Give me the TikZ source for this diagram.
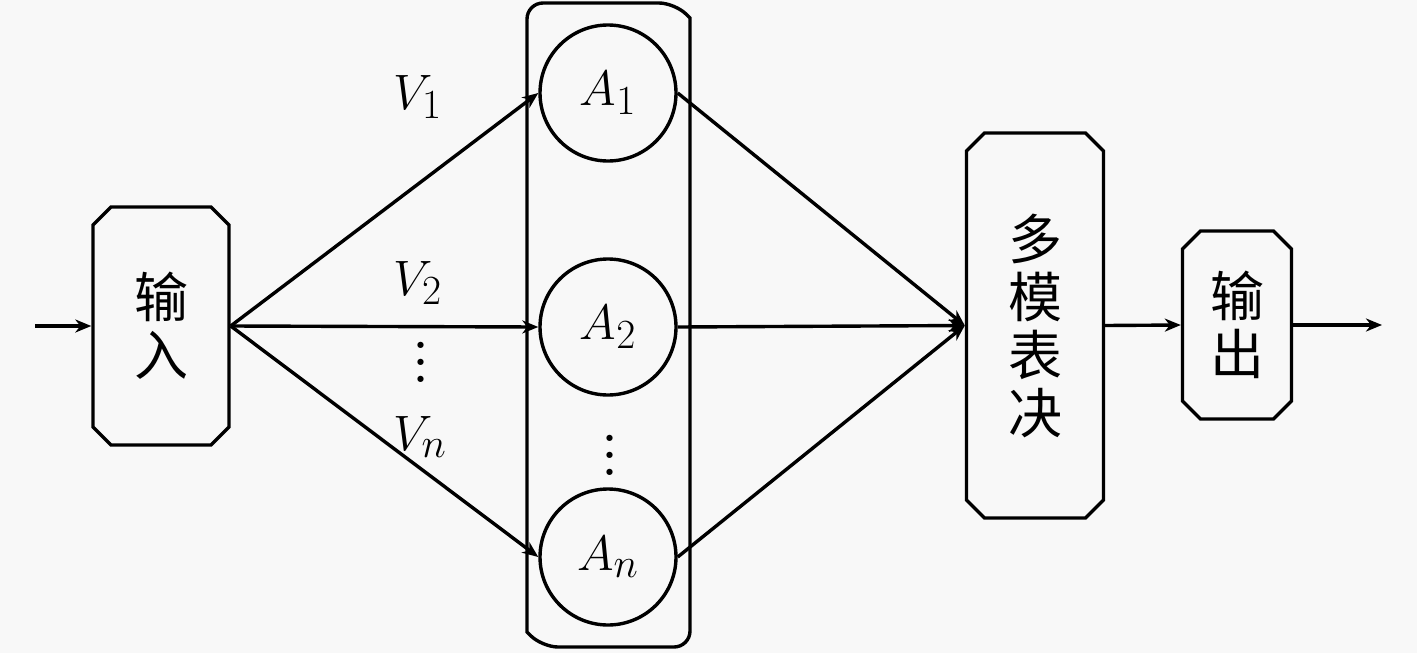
\documentclass[tikz,border=0pt]{standalone}
\usepackage{fontspec}
\newfontfamily\cjk{Noto Sans CJK SC}
\usetikzlibrary{arrows.meta,shapes.misc}
\definecolor{bg}{RGB}{248,248,248}
\newcommand{\bigvdots}{\vbox{\baselineskip=8.5pt\lineskiplimit=0pt\hbox{.}\hbox{.}\hbox{.}}}
\begin{document}
\begin{tikzpicture}[x=0.5pt,y=-0.5pt,line width=1.7pt,
  cbox/.style={draw,chamfered rectangle,chamfered rectangle angle=45,
    chamfered rectangle xsep=4.5pt,chamfered rectangle ysep=4.5pt,inner sep=0pt,
    align=center,font=\cjk\fontsize{27}{29}\selectfont},
  unit/.style={draw,circle,inner sep=0pt,minimum size=68pt,font=\fontsize{30}{36}\selectfont},
  lab/.style={font=\fontsize{28}{34}\selectfont,inner sep=0pt},
  dots/.style={font=\fontsize{38}{40}\selectfont,inner sep=0pt},
  arr/.style={-{Stealth[length=8pt,width=6.5pt,inset=2.5pt]}}]
\fill[bg] (0,0) rectangle (1417,653);
\useasboundingbox (0,0) rectangle (1417,653);
% container
\node[minimum width=81.5pt,minimum height=322pt,inner sep=0pt] (cont) at (608.5,325) {};
\draw (527,632) [rounded corners=8pt] -- (527,3) -- (675,3) [sharp corners] -- (690,18)
  [rounded corners=8pt] -- (690,647) -- (542,647) [sharp corners] -- cycle;
% boxes
\node[cbox,minimum width=68pt,minimum height=119pt] (in) at (161,326) {输\\入};
\node[cbox,minimum width=68.5pt,minimum height=192.5pt] (vote) at (1035,325.5) {多\\模\\表\\决};
\node[cbox,minimum width=54.5pt,minimum height=94pt] (out) at (1237,325) {输\\出};
% units
\node[unit] (A1) at (608,93) {$A_1$};
\node[unit] (A2) at (608,327) {$A_2$};
\node[unit] (An) at (608,557) {$A_n$};
% labels
\node[lab] (V1) at (418,97) {$V_1$};
\node[lab] (V2) at (418,283) {$V_2$};
\node[dots] (d1) at (421,362) {\bigvdots};
\node[lab] (Vn) at (420,437) {$V_n$};
\node[dots] (d2) at (610,455) {\bigvdots};
% connectors
\coordinate (start) at (35,326);
\coordinate (end) at (1382,325);
\draw[arr] (start) -- (in.west);
\draw[arr] (in.east) -- (A1.west);
\draw[arr] (in.east) -- (A2.west);
\draw[arr] (in.east) -- (An.west);
\draw[arr] (A1.east) -- (vote.west);
\draw[arr] (A2.east) -- (vote.west);
\draw[arr] (An.east) -- (vote.west);
\draw[arr] (vote.east) -- (out.west);
\draw[arr] (out.east) -- (end);
\end{tikzpicture}
\end{document}
